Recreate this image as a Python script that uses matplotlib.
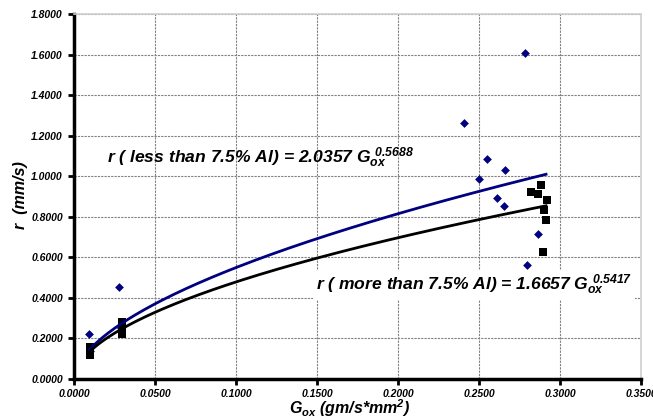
import numpy as np
import matplotlib
matplotlib.use("Agg")
import matplotlib.pyplot as plt

# datos
gox_low = [0.0093, 0.0100, 0.0278, 0.0290, 0.2407, 0.2500, 0.2547, 0.2613,
           0.2652, 0.2662, 0.2782, 0.2798, 0.2862]
r_low = [0.224, 0.140, 0.455, 0.250, 1.262, 0.988, 1.083, 0.891,
         0.853, 1.031, 1.609, 0.564, 0.715]

gox_high = [0.0099, 0.0099, 0.0099, 0.0294, 0.0294, 0.0294, 0.0294,
            0.2819, 0.2866, 0.2885, 0.2918, 0.2903, 0.2916, 0.2897]
r_high = [0.160, 0.140, 0.120, 0.280, 0.260, 0.240, 0.220,
          0.921, 0.912, 0.958, 0.883, 0.833, 0.784, 0.628]

# coeficientes de las lineas de tendencia (potencia)
fit_low = (2.0357, 0.5688)
fit_high = (1.6657, 0.5417)
fit_range = (0.0095, 0.2914)

plt.rcParams["font.family"] = ["Liberation Sans", "DejaVu Sans"]
plt.rcParams["mathtext.fontset"] = "custom"
plt.rcParams["mathtext.rm"] = "Liberation Sans:bold:italic"
plt.rcParams["mathtext.it"] = "Liberation Sans:bold:italic"
plt.rcParams["mathtext.bf"] = "Liberation Sans:bold:italic"

fig = plt.figure(figsize=(6.53, 4.19), dpi=100)
ax = fig.add_axes([0.1133, 0.0955, 0.8683, 0.8711])

ax.scatter(gox_low, r_low, marker="D", s=20, color="#000080", zorder=3, linewidths=0)
ax.scatter(gox_high, r_high, marker="s", s=40, color="black", zorder=4, linewidths=0)

xs = np.linspace(fit_range[0], fit_range[1], 200)
ax.plot(xs, fit_low[0] * xs ** fit_low[1], color="#000080", lw=2, zorder=5)
ax.plot(xs, fit_high[0] * xs ** fit_high[1], color="black", lw=2, zorder=5)

ax.set_xlim(0, 0.35)
ax.set_ylim(0, 1.8)
ax.set_xticks(np.arange(0, 0.3501, 0.05))
ax.set_yticks(np.arange(0, 1.8001, 0.2))
ax.xaxis.set_major_formatter(matplotlib.ticker.FormatStrFormatter("%.4f"))
ax.yaxis.set_major_formatter(matplotlib.ticker.FormatStrFormatter("%.4f"))
for lab in ax.get_xticklabels() + ax.get_yticklabels():
    lab.set_fontsize(7.5)
    lab.set_fontweight("bold")
    lab.set_fontstyle("italic")
ax.tick_params(direction="out", length=4, width=2, color="black", pad=4)
ax.tick_params(axis="x", pad=3)

ax.grid(True, color="#808080", lw=0.8, ls=(0, (2, 1)))
ax.set_axisbelow(True)
for side in ["left", "bottom"]:
    ax.spines[side].set_linewidth(2.5)
    ax.spines[side].set_color("black")
for side in ["top", "right"]:
    ax.spines[side].set_linewidth(1.2)
    ax.spines[side].set_color("#d0d0d0")

fig.text(20 / 653, 1 - 195 / 419, "r  (mm/s)", rotation=90, fontsize=11.5,
         fontweight="bold", style="italic", ha="center", va="center")
fig.text(350 / 653, 1 - 408 / 419, "$G_{ox}$ (gm/s*mm$^{2}$)", fontsize=11.5,
         fontweight="bold", style="italic", ha="center", va="center")

ax.text(0.0204, 1.09, r"r ( less than 7.5% Al) = 2.0357 $G_{ox}^{\ 0.5688}$",
        fontsize=12.6, fontweight="bold", style="italic", va="center", zorder=6)
ax.text(0.3444, 0.463, r"r ( more than 7.5% Al) = 1.6657 $G_{ox}^{\ 0.5417}$",
        fontsize=12.6, fontweight="bold", style="italic", ha="right", va="center",
        zorder=6, bbox=dict(facecolor="white", edgecolor="none", pad=2))

fig.savefig("out.png", dpi=100)
